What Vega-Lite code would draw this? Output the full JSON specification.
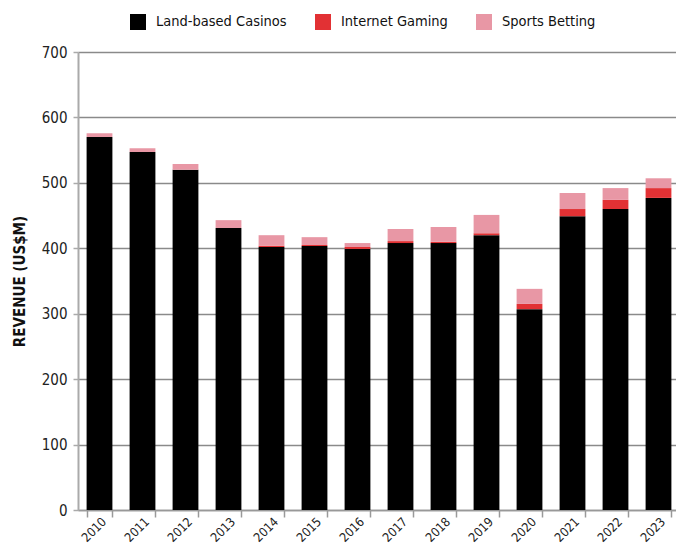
{
  "$schema": "https://vega.github.io/schema/vega-lite/v6.json",
  "autosize": "none",
  "padding": {"left": 78, "top": 52, "right": 0, "bottom": 35},
  "width": 602,
  "height": 458,
  "background": "white",
  "config": {
    "view": {"stroke": null},
    "font": "DejaVu Sans Condensed, sans-serif"
  },
  "data": {
    "values": [
      {"year": "2010", "segment": "Land-based Casinos", "rank": 1, "value": 570},
      {"year": "2010", "segment": "Internet Gaming", "rank": 2, "value": 0},
      {"year": "2010", "segment": "Sports Betting", "rank": 3, "value": 6},
      {"year": "2011", "segment": "Land-based Casinos", "rank": 1, "value": 547},
      {"year": "2011", "segment": "Internet Gaming", "rank": 2, "value": 0},
      {"year": "2011", "segment": "Sports Betting", "rank": 3, "value": 6},
      {"year": "2012", "segment": "Land-based Casinos", "rank": 1, "value": 520},
      {"year": "2012", "segment": "Internet Gaming", "rank": 2, "value": 0},
      {"year": "2012", "segment": "Sports Betting", "rank": 3, "value": 9},
      {"year": "2013", "segment": "Land-based Casinos", "rank": 1, "value": 431},
      {"year": "2013", "segment": "Internet Gaming", "rank": 2, "value": 0},
      {"year": "2013", "segment": "Sports Betting", "rank": 3, "value": 12},
      {"year": "2014", "segment": "Land-based Casinos", "rank": 1, "value": 402},
      {"year": "2014", "segment": "Internet Gaming", "rank": 2, "value": 2},
      {"year": "2014", "segment": "Sports Betting", "rank": 3, "value": 16},
      {"year": "2015", "segment": "Land-based Casinos", "rank": 1, "value": 403.5},
      {"year": "2015", "segment": "Internet Gaming", "rank": 2, "value": 1.5},
      {"year": "2015", "segment": "Sports Betting", "rank": 3, "value": 12},
      {"year": "2016", "segment": "Land-based Casinos", "rank": 1, "value": 399},
      {"year": "2016", "segment": "Internet Gaming", "rank": 2, "value": 3},
      {"year": "2016", "segment": "Sports Betting", "rank": 3, "value": 6},
      {"year": "2017", "segment": "Land-based Casinos", "rank": 1, "value": 408},
      {"year": "2017", "segment": "Internet Gaming", "rank": 2, "value": 3},
      {"year": "2017", "segment": "Sports Betting", "rank": 3, "value": 18.5},
      {"year": "2018", "segment": "Land-based Casinos", "rank": 1, "value": 408},
      {"year": "2018", "segment": "Internet Gaming", "rank": 2, "value": 2},
      {"year": "2018", "segment": "Sports Betting", "rank": 3, "value": 22.5},
      {"year": "2019", "segment": "Land-based Casinos", "rank": 1, "value": 420},
      {"year": "2019", "segment": "Internet Gaming", "rank": 2, "value": 3},
      {"year": "2019", "segment": "Sports Betting", "rank": 3, "value": 28},
      {"year": "2020", "segment": "Land-based Casinos", "rank": 1, "value": 307},
      {"year": "2020", "segment": "Internet Gaming", "rank": 2, "value": 8},
      {"year": "2020", "segment": "Sports Betting", "rank": 3, "value": 23},
      {"year": "2021", "segment": "Land-based Casinos", "rank": 1, "value": 449},
      {"year": "2021", "segment": "Internet Gaming", "rank": 2, "value": 11},
      {"year": "2021", "segment": "Sports Betting", "rank": 3, "value": 24.5},
      {"year": "2022", "segment": "Land-based Casinos", "rank": 1, "value": 460},
      {"year": "2022", "segment": "Internet Gaming", "rank": 2, "value": 14},
      {"year": "2022", "segment": "Sports Betting", "rank": 3, "value": 18},
      {"year": "2023", "segment": "Land-based Casinos", "rank": 1, "value": 477},
      {"year": "2023", "segment": "Internet Gaming", "rank": 2, "value": 15},
      {"year": "2023", "segment": "Sports Betting", "rank": 3, "value": 15}
    ]
  },
  "mark": {"type": "bar"},
  "encoding": {
    "x": {
      "field": "year",
      "type": "nominal",
      "scale": {"paddingInner": 0.4, "paddingOuter": 0.2},
      "axis": {
        "title": null,
        "labelAngle": -45,
        "labelFontSize": 12.5,
        "labelColor": "#222",
        "tickBand": "extent",
        "tickSize": 7,
        "tickColor": "#999",
        "tickWidth": 1.5,
        "domainColor": "#999",
        "domainWidth": 1.5,
        "labelPadding": -2
      }
    },
    "y": {
      "field": "value",
      "type": "quantitative",
      "stack": "zero",
      "scale": {"domain": [0, 700], "nice": false},
      "axis": {
        "title": "REVENUE (US$M)",
        "titleFontSize": 15,
        "titleFontWeight": "bold",
        "titleColor": "#111",
        "titlePadding": 14,
        "values": [0, 100, 200, 300, 400, 500, 600, 700],
        "labelFontSize": 15,
        "labelColor": "#222",
        "labelPadding": 6,
        "grid": true,
        "gridColor": "#8a8a8a",
        "gridWidth": 1.5,
        "tickColor": "#aaa",
        "tickSize": 5,
        "tickWidth": 1.5,
        "domainColor": "#aaa",
        "domainWidth": 2
      }
    },
    "color": {
      "field": "segment",
      "type": "nominal",
      "scale": {
        "domain": ["Land-based Casinos", "Internet Gaming", "Sports Betting"],
        "range": ["#000000", "#e23134", "#e897a5"]
      },
      "legend": {
        "title": null,
        "orient": "none",
        "direction": "horizontal",
        "legendX": 52,
        "legendY": -38,
        "padding": 0,
        "symbolType": "square",
        "symbolSize": 256,
        "symbolStrokeWidth": 0,
        "symbolOpacity": 1,
        "labelFontSize": 14.5,
        "labelColor": "#111",
        "labelOffset": 10,
        "columnPadding": 28,
        "labelLimit": 300
      }
    },
    "order": {"field": "rank", "type": "quantitative", "sort": "ascending"}
  }
}
